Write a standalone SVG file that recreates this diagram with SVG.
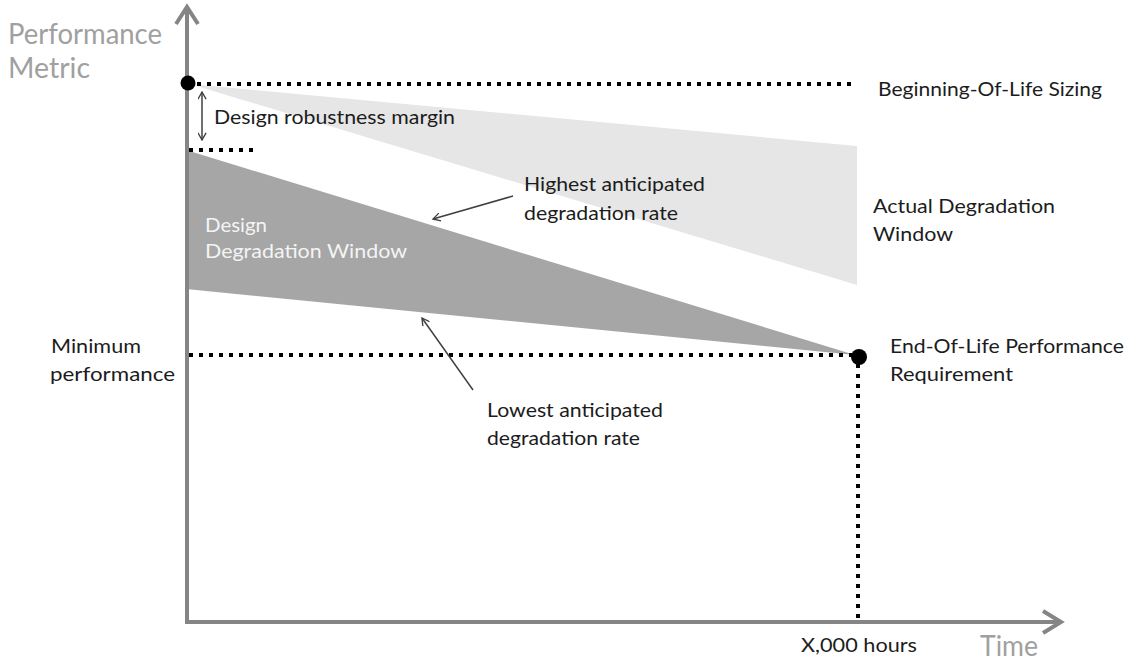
<svg xmlns="http://www.w3.org/2000/svg" width="1129" height="662" viewBox="0 0 1129 662">
<style>
.t{font-family:Lato,"Open Sans","Liberation Sans",sans-serif;font-size:20px;fill:#1c1c1c}
.w{font-family:Lato,"Open Sans","Liberation Sans",sans-serif;font-size:20px;fill:#f4f4f4}
.ax{font-family:Lato,"Open Sans","Liberation Sans",sans-serif;font-size:28px;fill:#a0a0a0}
.dl{stroke:#000;stroke-width:4;stroke-dasharray:4 6;fill:none}
.axis{stroke:#858585;stroke-width:4;fill:none;stroke-linejoin:miter}
.ann{stroke:#404040;stroke-width:1.5;fill:none}
</style>
<defs>
<marker id="oa" viewBox="0 0 10 10" refX="9" refY="5" markerWidth="9" markerHeight="9" markerUnits="userSpaceOnUse" orient="auto-start-reverse">
<path d="M1,0.5 L9,5 L1,9.5" fill="none" stroke="#404040" stroke-width="1.5"/>
</marker>
</defs>

<g id="actual-window">
<polygon points="190,84 857,146 857,285" fill="#e6e6e6"/>
</g>
<g id="design-window">
<polygon points="186,150 855,355 186,289" fill="#a6a6a6"/>
<text class="w" x="205" y="232" textLength="62" lengthAdjust="spacingAndGlyphs">Design</text>
<text class="w" x="205" y="258" textLength="202" lengthAdjust="spacingAndGlyphs">Degradation Window</text>
</g>

<g id="axes">
<polyline class="axis" points="187,8 187,622 1060,622"/>
<polyline class="axis" points="176,24 187,7 198,24"/>
<polyline class="axis" points="1043,611 1061,622 1043,633"/>
<text class="ax" x="8" y="44" textLength="154" lengthAdjust="spacingAndGlyphs">Performance</text>
<text class="ax" x="8" y="78" textLength="82" lengthAdjust="spacingAndGlyphs">Metric</text>
<text class="ax" x="980" y="656" textLength="58" lengthAdjust="spacingAndGlyphs">Time</text>
</g>

<g id="connectors">
<line class="dl" x1="197" y1="84" x2="852" y2="84"/>
<line class="dl" x1="189" y1="150" x2="254" y2="150"/>
<line class="dl" x1="189" y1="355" x2="852" y2="355"/>
<line class="dl" x1="858" y1="364" x2="858" y2="622"/>
<line class="ann" x1="202" y1="92" x2="202" y2="140" marker-start="url(#oa)" marker-end="url(#oa)"/>
<line class="ann" x1="513" y1="196" x2="433" y2="219" marker-end="url(#oa)"/>
<line class="ann" x1="473" y1="390" x2="422" y2="318" marker-end="url(#oa)"/>
</g>

<g id="bol">
<circle cx="188" cy="83" r="7.5" fill="#000"/>
<text class="t" x="878" y="96" textLength="224" lengthAdjust="spacingAndGlyphs">Beginning-Of-Life Sizing</text>
</g>
<g id="margin">
<text class="t" x="214" y="124" textLength="241" lengthAdjust="spacingAndGlyphs">Design robustness margin</text>
</g>
<g id="highest">
<text class="t" x="524" y="191" textLength="181" lengthAdjust="spacingAndGlyphs">Highest anticipated</text>
<text class="t" x="524" y="220" textLength="154" lengthAdjust="spacingAndGlyphs">degradation rate</text>
</g>
<g id="actual-label">
<text class="t" x="873" y="213" textLength="182" lengthAdjust="spacingAndGlyphs">Actual Degradation</text>
<text class="t" x="873" y="241" textLength="80" lengthAdjust="spacingAndGlyphs">Window</text>
</g>
<g id="minimum">
<text class="t" x="51" y="353" textLength="90" lengthAdjust="spacingAndGlyphs">Minimum</text>
<text class="t" x="50" y="381" textLength="125" lengthAdjust="spacingAndGlyphs">performance</text>
</g>
<g id="eol">
<circle cx="859" cy="357" r="8" fill="#000"/>
<text class="t" x="890" y="353" textLength="234" lengthAdjust="spacingAndGlyphs">End-Of-Life Performance</text>
<text class="t" x="890" y="381" textLength="123" lengthAdjust="spacingAndGlyphs">Requirement</text>
</g>
<g id="lowest">
<text class="t" x="487" y="417" textLength="176" lengthAdjust="spacingAndGlyphs">Lowest anticipated</text>
<text class="t" x="487" y="445" textLength="153" lengthAdjust="spacingAndGlyphs">degradation rate</text>
</g>
<g id="hours">
<text class="t" x="801" y="652" textLength="116" lengthAdjust="spacingAndGlyphs">X,000 hours</text>
</g>
</svg>
